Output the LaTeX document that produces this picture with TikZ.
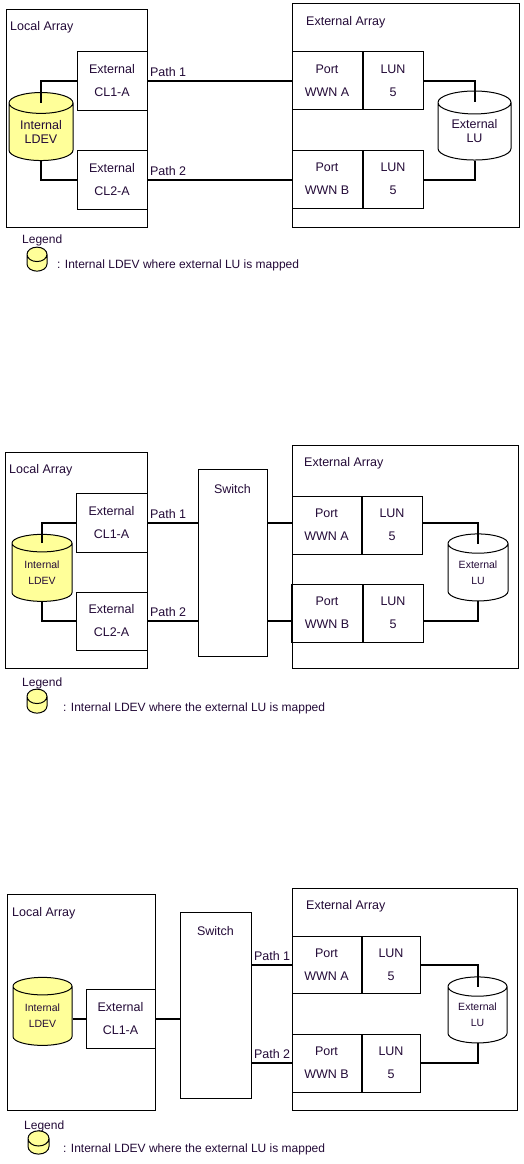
\documentclass[tikz,border=0pt]{standalone}
\usepackage{fontspec}
\setmainfont{Liberation Sans}
\usetikzlibrary{calc, positioning, shapes.geometric}

\definecolor{txt}{RGB}{35,10,55}
\definecolor{ldevfill}{RGB}{255,255,153}

\tikzset{
  arraybox/.style={draw, line width=1pt},
  cell/.style={arraybox, inner sep=0pt, align=center, font=\fontsize{12.5}{23}\selectfont},
  drum/.style={cylinder, shape border rotate=90, draw, line width=1pt, aspect=0.5, inner sep=0pt, align=center, fill=white},
  bigdrum/.style={drum, font=\fontsize{12.5}{14}\selectfont},
  smalldrum/.style={drum, font=\fontsize{10.5}{16}\selectfont},
  keydrum/.style={drum, fill=ldevfill, aspect=0.8},
  wire/.style={line width=2pt},
  lbl/.style={anchor=base west, inner sep=0pt, font=\fontsize{12.5}{15}\selectfont},
  pathlbl/.style={lbl, xshift=1.5pt, yshift=4.5pt},
  legtext/.style={anchor=base west, inner sep=0pt, font=\fontsize{12}{14}\selectfont},
}

\begin{document}
\begin{tikzpicture}[x=1pt, y=-1pt, every node/.append style={text=txt}]
\useasboundingbox (0,0) rectangle (523,1164);

% ---------- direct connection ----------
\draw[arraybox] (6,10) rectangle (147,227);
\node[lbl] (loc1) at (10,31) {Local Array};
\node[cell, minimum width=70, minimum height=58] (cla1) at (112,81) {External\\CL1-A};
\node[cell, minimum width=70, minimum height=59] (clb1) at (112,179.5) {External\\CL2-A};
\node[bigdrum, fill=ldevfill, minimum width=64, minimum height=68] (ldev1) at (41,132) {Internal\\LDEV};
\draw[arraybox] (292,4) rectangle (519,227);
\node[lbl] (ext1) at (306,25.5) {External Array};
\node[cell, minimum width=70, minimum height=57] (pa1) at (327,80.5) {Port\\WWN A};
\node[cell, minimum width=60, minimum height=57, right=0pt of pa1] (la1) {LUN\\5};
\node[cell, minimum width=70, minimum height=58] (pb1) at (327,179) {Port\\WWN B};
\node[cell, minimum width=60, minimum height=58, right=0pt of pb1] (lb1) {LUN\\5};
\node[bigdrum, minimum width=73, minimum height=69] (lu1) at (474.5,131.5) {External\\LU};
\coordinate (ldev1 top) at ($(ldev1.before top)!.5!(ldev1.after top)$);
\coordinate (lu1 top) at ($(lu1.before top)!.5!(lu1.after top)$);
% paths
\draw[wire] (ldev1 top) |- (cla1.west);
\draw[wire] (ldev1.bottom) |- (clb1.west);
\draw[wire] (cla1.east) -- node[pathlbl, pos=0] (p1a) {Path 1} (cla1.east -| pa1.west);
\draw[wire] (clb1.east) -- node[pathlbl, pos=0] (p2a) {Path 2} (clb1.east -| pb1.west);
\draw[wire] (la1.east |- cla1.east) -| (lu1 top);
\draw[wire] (lu1.bottom) |- (lb1.east |- clb1.east);
% legend
\node[legtext] (leg1) at (22,243) {Legend};
\node[keydrum, minimum width=20, minimum height=24] (key1) at (37,263) {\rule{18pt}{0pt}};
\node[legtext] (keytxt1) at (57,268) {: Internal LDEV where external LU is mapped};

% ---------- through a switch, two ports ----------
\draw[arraybox] (5,452) rectangle (147,668);
\node[lbl] (loc2) at (9,473) {Local Array};
\node[cell, minimum width=71, minimum height=59] (cla2) at (111.5,522.5) {External\\CL1-A};
\node[cell, minimum width=71, minimum height=58] (clb2) at (111.5,621) {External\\CL2-A};
\node[smalldrum, fill=ldevfill, minimum width=60, minimum height=67] (ldev2) at (42,572.5) {Internal\\LDEV};
\node[cell, minimum width=69, minimum height=187] (sw2) at (232.5,562.5) {};
\node[lbl, anchor=base] (swl2) at ([yshift=-25pt]sw2.north) {Switch};
\draw[arraybox] (292,445) rectangle (518,668);
\node[lbl] (ext2) at (304,466) {External Array};
\node[cell, minimum width=69, minimum height=58] (pa2) at (326.5,525) {Port\\WWN A};
\node[cell, minimum width=60, minimum height=58, right=0pt of pa2] (la2) {LUN\\5};
\node[cell, minimum width=70, minimum height=58] (pb2) at (327,613) {Port\\WWN B};
\node[cell, minimum width=60, minimum height=58, right=0pt of pb2] (lb2) {LUN\\5};
\node[smalldrum, minimum width=60, minimum height=67] (lu2) at (478,572.5) {External\\LU};
\coordinate (ldev2 top) at ($(ldev2.before top)!.5!(ldev2.after top)$);
\coordinate (lu2 top) at ($(lu2.before top)!.5!(lu2.after top)$);
% paths
\draw[wire] (ldev2 top) |- (cla2.west);
\draw[wire] (ldev2.bottom) |- (clb2.west);
\draw[wire] (cla2.east) -- node[pathlbl, pos=0] (p1b) {Path 1} (cla2.east -| sw2.west);
\draw[wire] (clb2.east) -- node[pathlbl, pos=0] (p2b) {Path 2} (clb2.east -| sw2.west);
\draw[wire] (sw2.east |- cla2.east) -- (pa2.west |- cla2.east);
\draw[wire] (sw2.east |- clb2.east) -- (pb2.west |- clb2.east);
\draw[wire] (pb2.north west) -- (pb2.south west);
\draw[wire] (la2.east |- cla2.east) -| (lu2 top);
\draw[wire] (lu2.bottom) |- (lb2.east |- clb2.east);
% legend
\node[legtext] (leg2) at (22,686) {Legend};
\node[keydrum, minimum width=20, minimum height=24] (key2) at (37,705) {\rule{18pt}{0pt}};
\node[legtext] (keytxt2) at (63,711) {: Internal LDEV where the external LU is mapped};

% ---------- through a switch, one port ----------
\draw[arraybox] (7,894) rectangle (155,1110);
\node[lbl] (loc3) at (12,916) {Local Array};
\node[smalldrum, fill=ldevfill, minimum width=59, minimum height=68] (ldev3) at (42.5,1016) {Internal\\LDEV};
\node[cell, minimum width=69, minimum height=59] (cla3) at (120.5,1018.5) {External\\CL1-A};
\node[cell, minimum width=71, minimum height=186] (sw3) at (215.5,1005) {};
\node[lbl, anchor=base] (swl3) at ([yshift=-24pt]sw3.north) {Switch};
\draw[arraybox] (292,888) rectangle (517,1110);
\node[lbl] (ext3) at (306,909) {External Array};
\node[cell, minimum width=69, minimum height=57] (pa3) at (326.5,964.5) {Port\\WWN A};
\node[cell, minimum width=58, minimum height=57, right=0pt of pa3] (la3) {LUN\\5};
\node[cell, minimum width=69, minimum height=58] (pb3) at (326.5,1063) {Port\\WWN B};
\node[cell, minimum width=58, minimum height=58, right=0pt of pb3] (lb3) {LUN\\5};
\node[smalldrum, minimum width=59, minimum height=66] (lu3) at (477.5,1015) {External\\LU};
\coordinate (lu3 top) at ($(lu3.before top)!.5!(lu3.after top)$);
% paths
\draw[wire] (ldev3.east |- cla3.west) -- (cla3.west);
\draw[wire] (cla3.east) -- (cla3.east -| sw3.west);
\draw[wire] (sw3.east |- pa3.west) -- node[pathlbl, pos=0] (p1c) {Path 1} (pa3.west);
\draw[wire] (sw3.east |- pb3.west) -- node[pathlbl, pos=0] (p2c) {Path 2} (pb3.west);
\draw[wire] (la3.east) -| (lu3 top);
\draw[wire] (lu3.bottom) |- (lb3.east);
% legend
\node[legtext] (leg3) at (24,1129) {Legend};
\node[keydrum, minimum width=21, minimum height=23] (key3) at (38.5,1146.5) {\rule{19pt}{0pt}};
\node[legtext] (keytxt3) at (63,1152) {: Internal LDEV where the external LU is mapped};
\end{tikzpicture}
\end{document}
